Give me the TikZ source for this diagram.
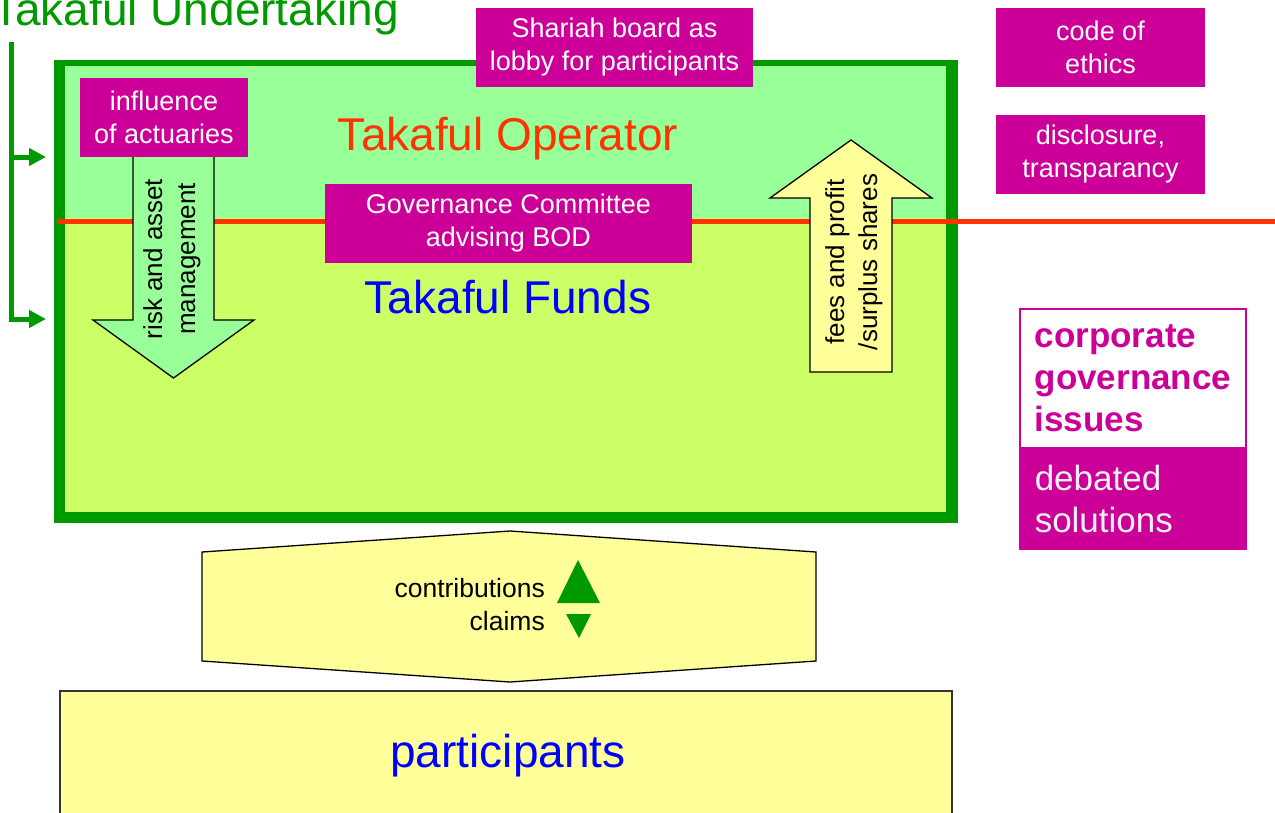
\documentclass[tikz,border=0pt]{standalone}
\usepackage{fontspec}
\setmainfont{Liberation Sans}
\usepackage{tikz}
\usetikzlibrary{positioning}
\usetikzlibrary{arrows.meta}
\definecolor{tkgreen}{HTML}{009900}
\definecolor{opgreen}{HTML}{99FF99}
\definecolor{fundgreen}{HTML}{CCFF66}
\definecolor{tkmag}{HTML}{CC0099}
\definecolor{tkred}{HTML}{FF3300}
\definecolor{tkyellow}{HTML}{FFFF99}
\definecolor{tkblue}{HTML}{0000FF}
\tikzset{mag node/.style={rectangle,fill=tkmag,text=white,align=center,inner sep=0pt,font=\fontsize{27}{33}\selectfont},
  big label/.style={inner sep=0pt,font=\fontsize{46}{55}\selectfont},
  block arrow/.style={draw=black,line width=1.3pt,line join=miter},
  arrow text/.style={rotate=90,align=center,inner sep=0pt,font=\fontsize{26}{33}\selectfont},
  bracket/.style={tkgreen,line width=5pt,-{Triangle[length=17pt,width=17pt]}},
}

\begin{document}
\begin{tikzpicture}[x=1pt,y=-1pt]
    \useasboundingbox (0,0) rectangle (1275,812);
    \clip (0,0) rectangle (1275,812);

    % undertaking box with operator and funds
    \fill[tkgreen] (54,60) rectangle (958,523);
    \fill[opgreen] (65,66) rectangle (946,218);
    \fill[fundgreen] (65,218) rectangle (946,512);
    \draw[tkred,line width=5pt] (57,221.5) -- (1275,221.5);

    \node[big label,text=tkgreen,anchor=base west] (title) at (-8,25) {Takaful Undertaking};
    \coordinate (brtop) at (11,42);
    \coordinate (opin) at (46,157);
    \coordinate (fundin) at (46,319);
    \draw[bracket] (brtop) |- (fundin);
    \draw[bracket] (brtop |- opin) -- (opin);

    \node[big label,text=tkred,anchor=base] (op) at (508,150) {Takaful Operator};
    \node[big label,text=tkblue,anchor=base] (funds) at (508,313) {Takaful Funds};

    % block arrows
    \draw[block arrow,fill=opgreen] (133,150) -- (214,150) -- (214,320) -- (254,320)
        -- (173.5,378) -- (93,320) -- (133,320) -- cycle;
    \node[arrow text] (risk) at (172,259) {risk and asset\\management};
    \draw[block arrow,fill=tkyellow] (810,372) -- (892,372) -- (892,198) -- (932,198)
        -- (851,140) -- (770,198) -- (810,198) -- cycle;
    \node[arrow text] (fees) at (854,262) {fees and profit\\/surplus shares};

    % magenta tags
    \node[mag node,minimum width=168pt,minimum height=79pt] (inf) at (164,117.5) {influence\\of actuaries};
    \node[mag node,minimum width=277pt,minimum height=79pt] (shariah) at (614.5,47.5) {Shariah board as\\lobby for participants};
    \node[mag node,minimum width=367pt,minimum height=79pt] (gov) at (508.5,223.5) {Governance Committee\\advising BOD};
    \node[mag node,minimum width=209pt,minimum height=79pt] (ethics) at (1100.5,47.5) {code of\\ethics};
    \node[mag node,minimum width=209pt,minimum height=79pt] (disc) at (1100.5,154.5) {disclosure,\\transparancy};

    % legend
    \node[draw=tkmag,line width=1.5pt,fill=white,text=tkmag,align=left,text width=196pt,inner xsep=15pt,
        minimum height=139pt,font=\fontsize{35}{42}\selectfont\bfseries,anchor=north west] (issues) at (1019,308)
        {corporate\\governance\\issues};
    \node[draw=tkmag,line width=1.5pt,fill=tkmag,text=gray!10,align=left,text width=196pt,inner xsep=15pt,
        minimum height=100pt,font=\fontsize{35}{42}\selectfont,below=0pt of issues] (sol) {debated\\solutions};

    % contributions and claims
    \draw[block arrow,fill=tkyellow] (202,552) -- (510,531) -- (816,552) -- (816,661)
        -- (510,682) -- (202,661) -- cycle;
    \node[align=right,inner sep=0pt,font=\fontsize{26.5}{33}\selectfont,anchor=east] (flow) at (545,605) {contributions\\claims};
    \fill[tkgreen] (557,603) -- (578,560) -- (600,603) -- cycle;
    \fill[tkgreen] (566,614) -- (591,614) -- (579,638) -- cycle;

    \draw[block arrow,draw=black!80,fill=tkyellow] (60,691) rectangle (952,830);
    \node[big label,text=tkblue,anchor=base] (part) at (508,767) {participants};
\end{tikzpicture}
\end{document}
